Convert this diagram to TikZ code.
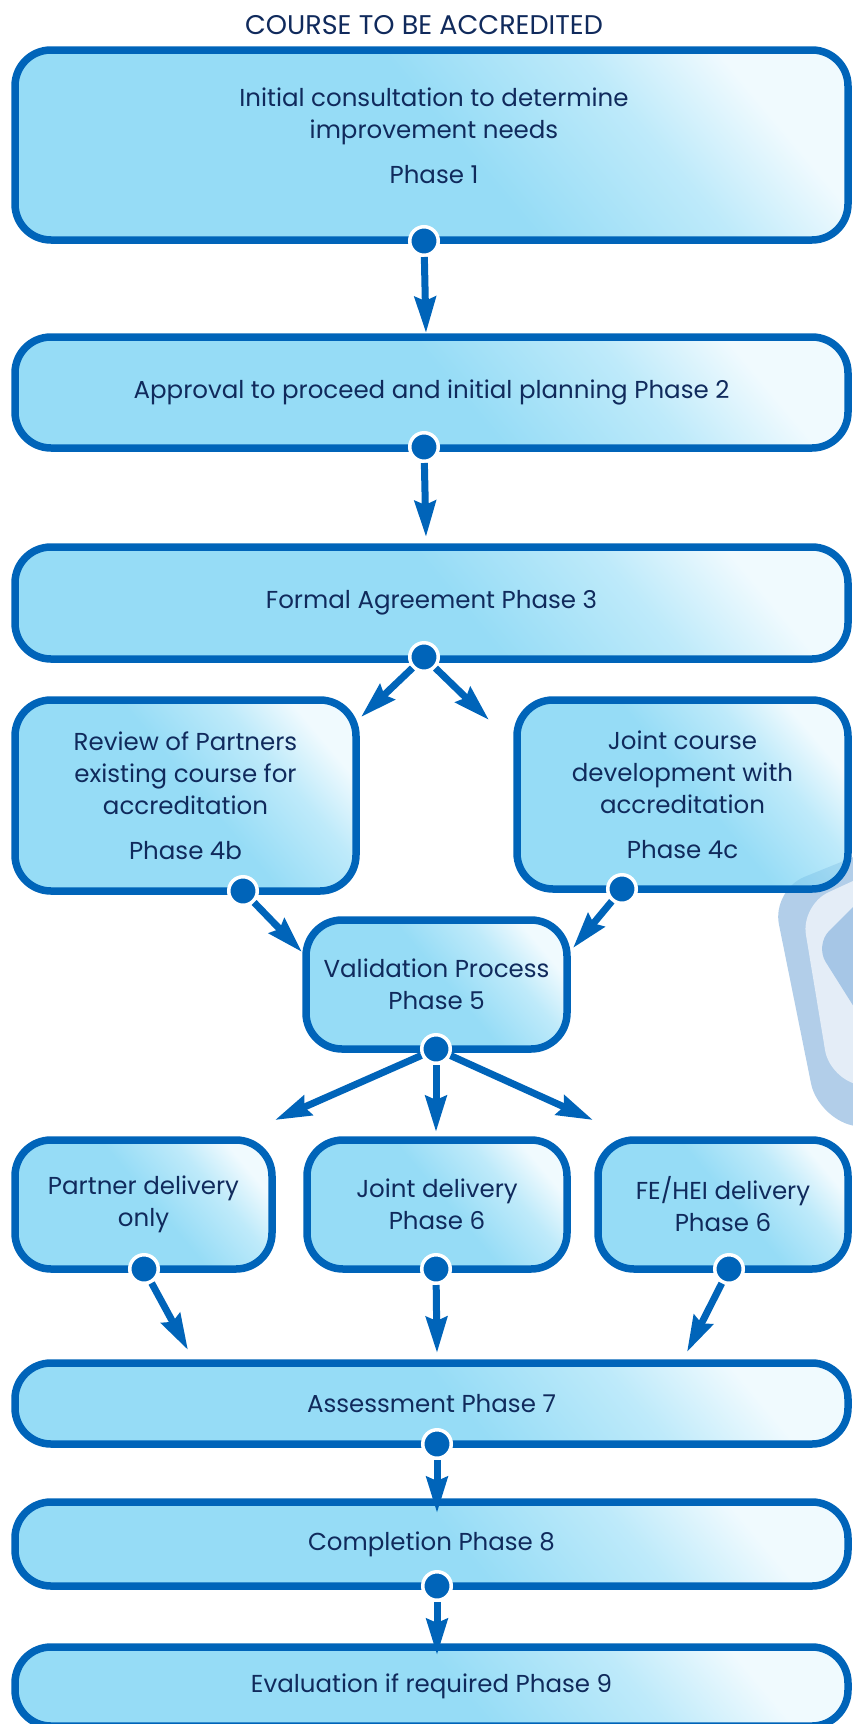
\documentclass[tikz,border=0pt]{standalone}
\usepackage{fontspec}
\setmainfont{Poppins}
\usetikzlibrary{arrows.meta}
\definecolor{edgeblue}{RGB}{0,100,185}
\definecolor{inkblue}{RGB}{16,42,92}
\definecolor{boxcyan}{RGB}{150,220,246}
\definecolor{boxmid}{RGB}{190,234,250}
\definecolor{boxlight}{RGB}{240,250,254}
\definecolor{shieldout}{RGB}{178,206,233}
\definecolor{shieldmid}{RGB}{228,237,247}
\definecolor{shieldin}{RGB}{166,198,230}
\pgfdeclarehorizontalshading{boxshade}{100bp}{color(0bp)=(boxcyan); color(25bp)=(boxcyan); color(52bp)=(boxcyan); color(66bp)=(boxmid); color(76bp)=(boxlight); color(100bp)=(boxlight)}

\begin{document}
\begin{tikzpicture}[x=1pt,y=-1pt,
  phasebox/.style={draw=edgeblue, line width=7.5pt, rounded corners=36pt, shading=boxshade, shading angle=40, inner sep=0pt, align=center, text=inkblue, font=\fontsize{24.5}{32}\selectfont},
  phasetext/.style={align=center, text=inkblue, font=\fontsize{24.5}{32}\selectfont},
  knob/.style={circle, fill=edgeblue, draw=white, line width=3.5pt, minimum size=28.5pt, inner sep=0pt},
  flow/.style={edgeblue, line width=7pt, -{Stealth[length=36pt, width=21pt, inset=4pt]}},
  heading/.style={text=inkblue, font=\fontsize{27}{32}\selectfont}]
\useasboundingbox (0,0) rectangle (853,1724);

% shield in the background
\fill[shieldout, rounded corners=35pt] (920,830) -- (772,890) -- (818,1118) -- (920,1140) -- cycle;
\fill[shieldmid, rounded corners=30pt] (920,850) -- (801,905) -- (830,1080) -- (920,1095) -- cycle;
\fill[shieldin, rounded corners=20pt] (900,860) -- (815,945) -- (900,1080) -- cycle;

\node[heading] (ttl) at (424,25) {COURSE TO BE ACCREDITED};

% phases
\node[phasebox, minimum width=833pt, minimum height=190pt] (b1) at (431.5,145) {};
\node[phasetext] (b1t) at (434,136) {Initial consultation to determine\\improvement needs\\[13pt]Phase 1};
\node[phasebox, minimum width=833pt, minimum height=111pt] (b2) at (431.5,392.5) {Approval to proceed and initial planning Phase 2};
\node[phasebox, minimum width=833pt, minimum height=112pt] (b3) at (431.5,603) {Formal Agreement Phase 3};
\node[phasebox, minimum width=341pt, minimum height=191pt] (b4b) at (185.5,795.5) {Review of Partners\\existing course for\\accreditation\\[13pt]Phase 4b};
\node[phasebox, minimum width=331pt, minimum height=189pt] (b4c) at (682.5,794.5) {Joint course\\development with\\accreditation\\[13pt]Phase 4c};
\begin{scope} % shield seen through 4c
\clip[rounded corners=36pt] (517,700) rectangle (848,889);
\fill[edgeblue, opacity=0.12, rounded corners=35pt] (920,830) -- (772,890) -- (818,1118) -- (920,1140) -- cycle;
\end{scope}
\node[phasebox, minimum width=261pt, minimum height=129pt] (b5) at (436.5,984.5) {Validation Process\\Phase 5};
\node[phasebox, minimum width=257pt, minimum height=129pt] (b6a) at (143.5,1204.5) {Partner delivery\\only};
\node[phasebox, minimum width=260pt, minimum height=129pt] (b6b) at (437,1204.5) {Joint delivery\\Phase 6};
\node[phasebox, minimum width=250pt, minimum height=129pt] (b6c) at (723,1204.5) {FE/HEI delivery\\Phase 6};
\node[phasebox, minimum width=833pt, minimum height=81pt] (b7) at (431.5,1403.5) {Assessment Phase 7};
\node[phasebox, minimum width=833pt, minimum height=84pt] (b8) at (431.5,1544) {Completion Phase 8};
\node[phasebox, minimum width=833pt, minimum height=79pt] (b9) at (431.5,1686.5) {Evaluation if required Phase 9};

% dots on the lower edges
\node[knob] (d1) at (424,241) {};
\node[knob] (d2) at (424,447) {};
\node[knob] (d3) at (424,657) {};
\node[knob] (d4b) at (243,891) {};
\node[knob] (d4c) at (622,889) {};
\node[knob] (d5) at (436,1049) {};
\node[knob] (d6a) at (144,1269) {};
\node[knob] (d6b) at (436,1269) {};
\node[knob] (d6c) at (729,1269) {};
\node[knob] (d7) at (437,1444) {};
\node[knob] (d8) at (437,1586) {};

% arrow tips
\coordinate (t1) at (426,333);
\coordinate (t2) at (426,537);
\coordinate (t3l) at (361,717);
\coordinate (t3r) at (489,720);
\coordinate (t4b) at (302,952);
\coordinate (t4c) at (573,948);
\coordinate (t5l) at (275,1120);
\coordinate (t5m) at (436,1132);
\coordinate (t5r) at (593,1120);
\coordinate (t6a) at (188,1350);
\coordinate (t6b) at (437,1353);
\coordinate (t6c) at (687,1352);
\coordinate (t7) at (437,1513);
\coordinate (t8) at (437,1655);

\draw[flow] (d1) -- (t1);
\draw[flow] (d2) -- (t2);
\draw[flow] (d3) -- (t3l);
\draw[flow] (d3) -- (t3r);
\draw[flow] (d4b) -- (t4b);
\draw[flow] (d4c) -- (t4c);
\draw[flow] (d5) -- (t5l);
\draw[flow] (d5) -- (t5m);
\draw[flow] (d5) -- (t5r);
\draw[flow] (d6a) -- (t6a);
\draw[flow] (d6b) -- (t6b);
\draw[flow] (d6c) -- (t6c);
\draw[flow] (d7) -- (t7);
\draw[flow] (d8) -- (t8);
\end{tikzpicture}
\end{document}
